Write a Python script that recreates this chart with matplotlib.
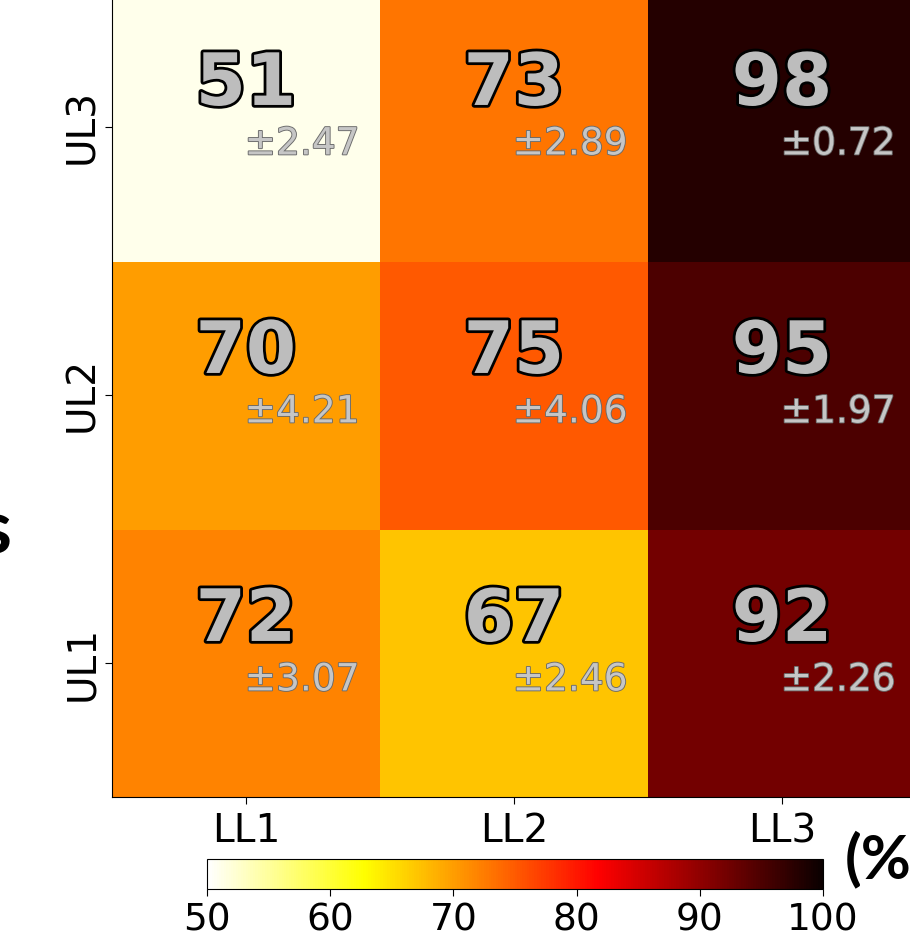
import matplotlib
matplotlib.use('Agg')
import numpy as np
import matplotlib.pyplot as plt
import matplotlib.patheffects as pe

# accuracy grid: rows UL1..UL3 (bottom to top), columns LL1..LL3
row_labels = ['UL1', 'UL2', 'UL3']
col_labels = ['LL1', 'LL2', 'LL3']
mean_acc = [[72, 67, 92],
            [70, 75, 95],
            [51, 73, 98]]
std_acc = [[3.07, 2.46, 2.26],
           [4.21, 4.06, 1.97],
           [2.47, 2.89, 0.72]]
cbar_ticks = [50, 60, 70, 80, 90, 100]

W, H = 910, 948
fig = plt.figure(figsize=(W / 100, H / 100), dpi=100)

# heatmap axes runs a little past the top and right edge of the canvas
ax = fig.add_axes([112 / W, 151 / H, 804 / W, 804 / H])
im = ax.imshow(np.array(mean_acc), cmap='hot_r', vmin=50, vmax=100,
               origin='lower', aspect='auto')
ax.set_xticks(range(len(col_labels)))
ax.set_xticklabels(col_labels, fontsize=28)
ax.set_yticks(range(len(row_labels)))
ax.set_yticklabels(row_labels, fontsize=28, rotation=90, va='center')
ax.tick_params(axis='x', length=5, pad=6)
ax.tick_params(axis='y', length=5, pad=3)

big_fx = [pe.withStroke(linewidth=4, foreground='black')]
small_fx = [pe.withStroke(linewidth=1.3, foreground='#6a6a6a')]
for i in range(len(row_labels)):
    for j in range(len(col_labels)):
        ax.text(j, i + 0.155, str(mean_acc[i][j]), ha='center', va='center',
                fontsize=52, fontweight='bold', color='#bdbdbd',
                path_effects=big_fx)
        ax.text(j - 0.005, i - 0.065, '\u00b1%.2f' % std_acc[i][j],
                ha='left', va='center', fontsize=27, color='#c6c6c6',
                path_effects=small_fx)

# colorbar underneath
cax = fig.add_axes([207 / W, 59 / H, 616 / W, 30 / H])
cb = fig.colorbar(im, cax=cax, orientation='horizontal')
cb.set_ticks(cbar_ticks)
cax.tick_params(labelsize=27, length=5, pad=5)

fig.text(845 / W, (H - 878) / H, '(%)', fontsize=44, fontweight='bold',
         family='Lato', ha='left', va='baseline')
fig.text(11 / W, (H - 553) / H, 's', fontsize=54, fontweight='bold',
         family='Lato', ha='right', va='baseline')

fig.savefig('out.png', dpi=100)
